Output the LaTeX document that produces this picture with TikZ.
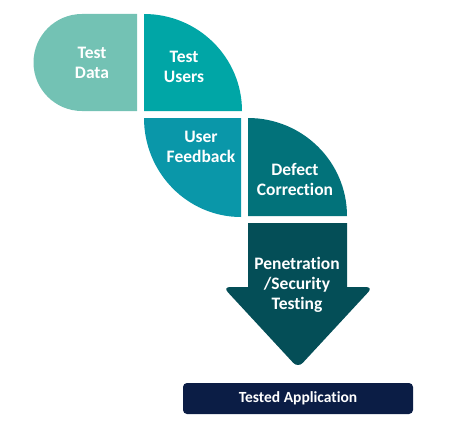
\documentclass[tikz,border=0pt]{standalone}
\usepackage{fontspec}
\setmainfont{Carlito}[Ligatures={NoCommon}]
\definecolor{cdata}{HTML}{73C2B4}
\definecolor{cusers}{HTML}{00A6A6}
\definecolor{cfeed}{HTML}{0A97A9}
\definecolor{cdefect}{HTML}{02727A}
\definecolor{carrow}{HTML}{044E57}
\definecolor{cnavy}{HTML}{0B1D45}
\tikzset{
  lbl/.style={text=white, font=\bfseries\fontsize{17.5}{20}\selectfont, align=center, inner sep=0pt},
  finalbox/.style={fill=cnavy, rounded corners=4pt, text=white, font=\bfseries\fontsize{15.5}{18}\selectfont, inner sep=0pt}
}
\begin{document}
\begin{tikzpicture}[x=1pt,y=-1pt]
\useasboundingbox (0,0) rectangle (471,436);
% Test Data
\fill[cdata] (137,14) -- (82,14) arc[start angle=270, end angle=90, radius=48.5] -- (137,111) -- cycle;
% Test Users
\fill[cusers] (144,111) -- (144,14) arc[start angle=270, end angle=360, x radius=98, y radius=97] -- cycle;
% User Feedback
\fill[cfeed] (241,118) -- (144,118) arc[start angle=180, end angle=90, x radius=97, y radius=99] -- cycle;
% Defect Correction
\fill[cdefect] (248,216) -- (248,118) arc[start angle=270, end angle=360, x radius=99, y radius=98] -- cycle;
% Arrow
\fill[carrow] (248,223) -- (347,223) -- (347,287) [rounded corners=7pt] -- (373,287) -- (298,368) -- (223,287) [sharp corners] -- (248,287) -- cycle;
\node[lbl] (data) at (92,63) {Test\\Data};
\node[lbl] (users) at (184,67) {Test\\Users};
\node[lbl] (feed) at (201,147) {User\\Feedback};
\node[lbl] (defect) at (295,179) {Defect\\Correction};
\node[lbl] (pen) at (297,285) {Penetration\\/Security\\Testing};
\node[finalbox, minimum width=230pt, minimum height=31pt] (app) at (298,398.5) {Tested Application};
\end{tikzpicture}
\end{document}
